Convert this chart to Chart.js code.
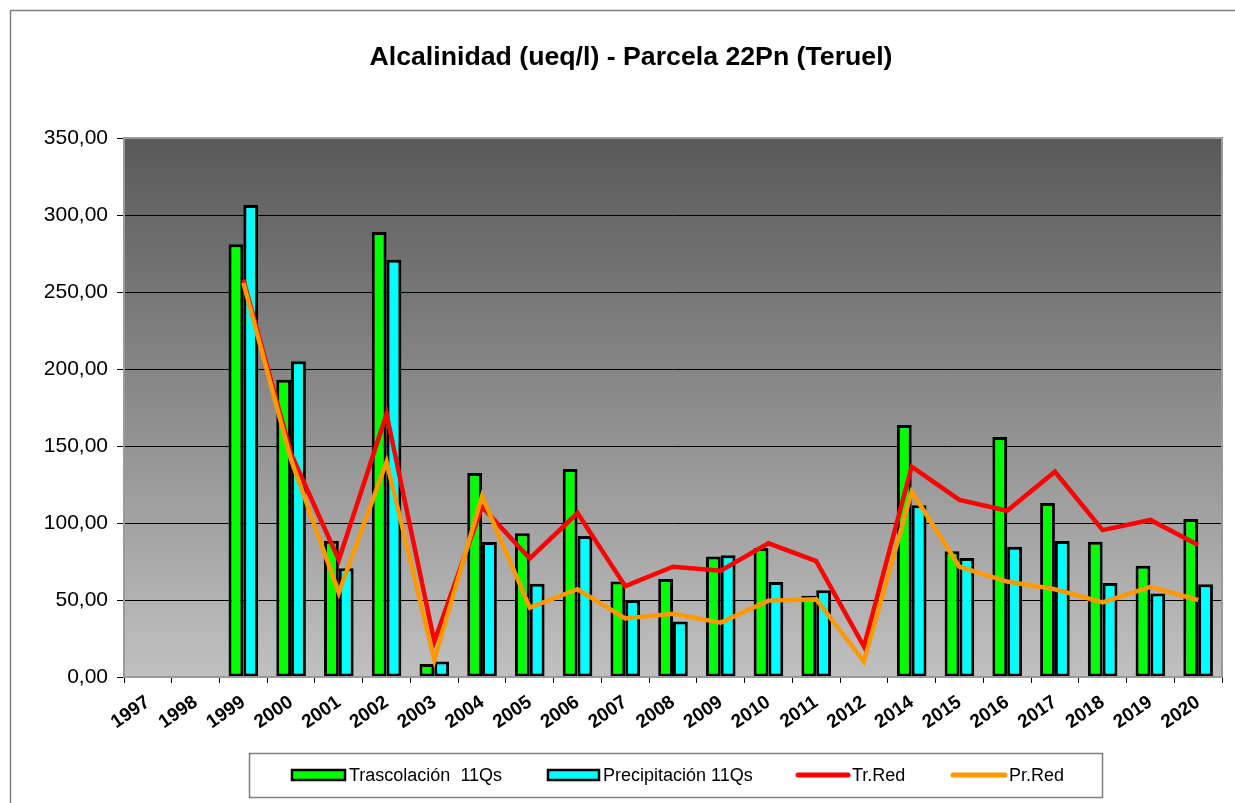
<!DOCTYPE html>
<html>
<head>
<meta charset="utf-8">
<script src="https://cdn.jsdelivr.net/npm/chart.js@4"></script>
<style>
html,body{margin:0;padding:0;background:#fff;}
#wrap{position:relative;width:1235px;height:803px;}
</style>
</head>
<body>
<div id="wrap"><canvas id="c" width="1235" height="803"></canvas></div>
<script>
const categories = ['1997','1998','1999','2000','2001','2002','2003','2004','2005','2006','2007','2008','2009','2010','2011','2012','2014','2015','2016','2017','2018','2019','2020'];
const trascolacion = [null,null,281,193,88.5,289,8.4,132.4,93.3,135,62,63.6,78.3,83.8,52.8,null,163.6,81.6,155.8,113,87.9,72.3,102.6];
const precipitacion = [null,null,306.5,205,70.7,271,10,87.6,60.6,91.5,50,36,79,61.7,56.3,null,111.5,77.3,84.6,88.3,61,54.3,60.2];
const trRed = [null,null,258,145,76,170.8,23,110.6,77,106.5,59,71.6,69,86.8,75.3,19.7,136.6,115,108,133.3,95.4,102,85.7];
const prRed = [null,null,256,141,54.7,139.8,11,117.5,45,57,38,41,35.3,49.6,50.4,10,120.3,71.6,62,57,48.5,58.6,50];
const yTicks = [0,50,100,150,200,250,300,350];
const seriesNames = ['Trascolación  11Qs','Precipitación 11Qs','Tr.Red','Pr.Red'];

const FONT = 'Arial, "Liberation Sans", sans-serif';

const bgPlugin = {
  id: 'bg',
  beforeDraw(chart) {
    const {ctx, chartArea: a} = chart;
    ctx.save();
    ctx.fillStyle = '#fff';
    ctx.fillRect(0, 0, chart.width, chart.height);
    ctx.strokeStyle = '#808080';
    ctx.lineWidth = 1.5;
    ctx.beginPath();
    ctx.moveTo(10.5, chart.height + 5);
    ctx.lineTo(10.5, 10.5);
    ctx.lineTo(chart.width + 5, 10.5);
    ctx.stroke();
    const g = ctx.createLinearGradient(0, a.top, 0, a.bottom);
    g.addColorStop(0, '#595959');
    g.addColorStop(1, '#c0c0c0');
    ctx.fillStyle = g;
    ctx.fillRect(a.left, a.top, a.right - a.left, a.bottom - a.top);
    ctx.restore();
  },
  afterDatasetsDraw(chart) {
    const {ctx, chartArea: a} = chart;
    ctx.save();
    ctx.strokeStyle = '#9a9a9a';
    ctx.lineWidth = 2;
    ctx.strokeRect(a.left, a.top, a.right - a.left, a.bottom - a.top);
    ctx.restore();
  },
  afterDraw(chart) {
    const ctx = chart.ctx;
    const bx = 249, by = 753, bw = 853, bh = 44;
    ctx.save();
    ctx.fillStyle = '#fff';
    ctx.fillRect(bx, by, bw, bh);
    ctx.strokeStyle = '#808080';
    ctx.lineWidth = 1.5;
    ctx.strokeRect(bx + 0.5, by + 0.5, bw, bh);
    ctx.font = '18px ' + FONT;
    ctx.textBaseline = 'middle';
    const cy = by + bh / 2;
    const items = [
      {x: 292, w: 53, type: 'bar', color: '#00ff00', label: seriesNames[0]},
      {x: 548, w: 51, type: 'bar', color: '#00ffff', label: seriesNames[1]},
      {x: 798, w: 50, type: 'line', color: '#ff0000', label: seriesNames[2]},
      {x: 953, w: 52, type: 'line', color: '#ff9900', label: seriesNames[3]}
    ];
    items.forEach(it => {
      if (it.type === 'bar') {
        ctx.fillStyle = it.color;
        ctx.fillRect(it.x, cy - 5, it.w, 10);
        ctx.strokeStyle = '#000';
        ctx.lineWidth = 2.5;
        ctx.strokeRect(it.x, cy - 5, it.w, 10);
      } else {
        ctx.strokeStyle = it.color;
        ctx.lineWidth = 5;
        ctx.lineCap = 'round';
        ctx.beginPath();
        ctx.moveTo(it.x, cy);
        ctx.lineTo(it.x + it.w, cy);
        ctx.stroke();
      }
      ctx.fillStyle = '#000';
      ctx.fillText(it.label, it.x + it.w + 4, cy + 1);
    });
    ctx.restore();
  }
};

const chart = new Chart(document.getElementById('c'), {
  data: {
    labels: categories,
    datasets: [
      {type: 'line', label: seriesNames[3], data: prRed, borderColor: '#ff9900', borderWidth: 4.5, pointRadius: 0, tension: 0, spanGaps: false, order: 0},
      {type: 'line', label: seriesNames[2], data: trRed, borderColor: '#ff0000', borderWidth: 4.5, pointRadius: 0, tension: 0, spanGaps: false, order: 1},
      {type: 'bar', label: seriesNames[0], data: trascolacion, backgroundColor: '#00ff00', borderColor: '#000', borderWidth: 3, borderSkipped: false, order: 2},
      {type: 'bar', label: seriesNames[1], data: precipitacion, backgroundColor: '#00ffff', borderColor: '#000', borderWidth: 3, borderSkipped: false, order: 3}
    ]
  },
  options: {
    responsive: false,
    animation: false,
    layout: {padding: {left: 40, right: 13, top: 0, bottom: 56}},
    datasets: {bar: {barPercentage: 1, categoryPercentage: 0.62, grouped: true}},
    plugins: {
      legend: {display: false},
      tooltip: {enabled: false},
      title: {
        display: true,
        text: 'Alcalinidad (ueq/l) - Parcela 22Pn (Teruel)',
        color: '#000',
        font: {family: FONT, size: 26.7, weight: 'bold'},
        padding: {top: 42, bottom: 64}
      }
    },
    scales: {
      x: {
        offset: true,
        grid: {display: true, offset: true, drawOnChartArea: false, color: '#000', tickLength: 6, lineWidth: 1},
        border: {display: true, color: '#000', width: 1},
        ticks: {
          color: '#000',
          font: {family: FONT, size: 19, weight: 'bold'},
          maxRotation: 35, minRotation: 35,
          autoSkip: false,
          padding: 8
        },
        afterFit(s) { s.height = 70; }
      },
      y: {
        min: 0, max: 350,
        afterBuildTicks(s) { s.ticks = yTicks.map(v => ({value: v})); },
        grid: {color: '#000', lineWidth: 1, tickLength: 7},
        border: {display: true, color: '#404040', width: 1},
        ticks: {
          color: '#000',
          font: {family: FONT, size: 21},
          padding: 9,
          callback: v => v.toFixed(2).replace('.', ',')
        },
        afterFit(s) { s.width = 84; }
      }
    }
  },
  plugins: [bgPlugin]
});
</script>
</body>
</html>
